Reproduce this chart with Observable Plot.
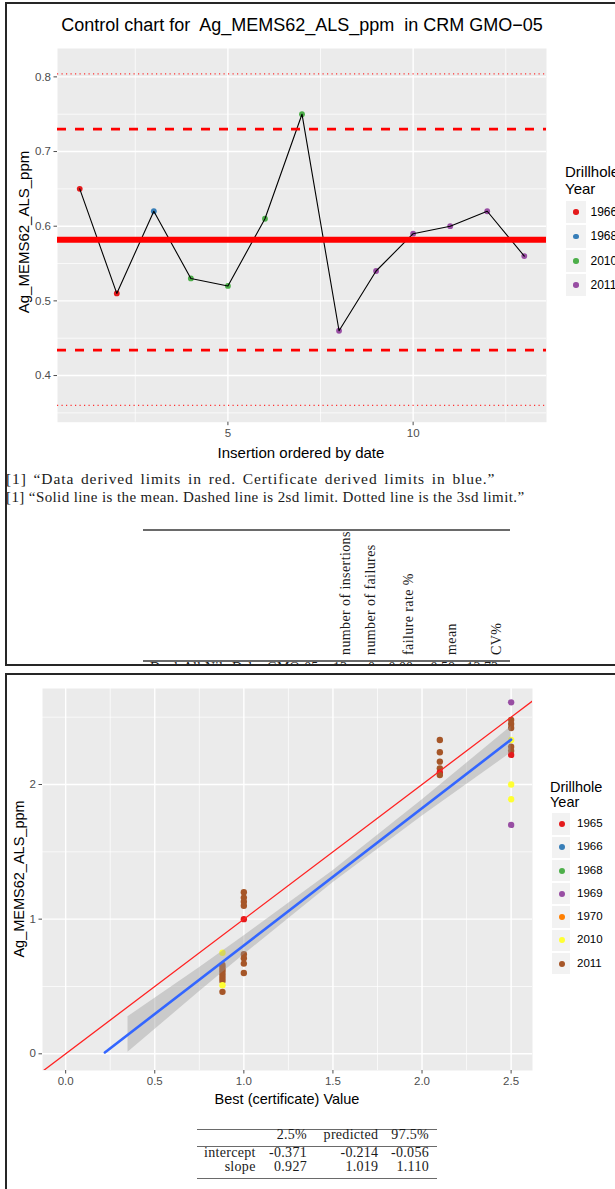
<!DOCTYPE html>
<html><head><meta charset="utf-8">
<script src="https://cdn.jsdelivr.net/npm/d3@7"></script>
<script src="https://cdn.jsdelivr.net/npm/@observablehq/plot@0.6"></script>
<style>
body{margin:0;background:#fff;}
#page{position:relative;width:615px;height:1189px;overflow:hidden;background:#fff;font-family:"Liberation Sans",Arial,sans-serif;color:#000;}
svg{position:absolute;}
</style></head><body><div id="page"></div>
<script>
// ---------- Control chart data ----------
const insertion = [1,2,3,4,5,6,7,8,9,10,11,12,13];
const agValue = [0.65,0.51,0.62,0.53,0.52,0.61,0.75,0.46,0.54,0.59,0.60,0.62,0.56];
const insertionYear = ["1966","1966","1968","2010","2010","2010","2010","2011","2011","2011","2011","2011","2011"];
const topYears = ["1966","1968","2010","2011"];
const topColors = ["#E41A1C","#377EB8","#4DAF4A","#984EA3"];
const meanValue = [0.582];
const limit2sd = [0.434, 0.730];
const limit3sd = [0.360, 0.804];
const topXTicks = [5, 10];
const topXMinor = [2.5, 7.5, 12.5];
const topYTicks = [0.4, 0.5, 0.6, 0.7, 0.8];
const topYMinor = [0.35, 0.45, 0.55, 0.65, 0.75];
const tableHeaders = ["number of insertions","number of failures","failure rate %","mean","CV%"];
const tableRowLabels = ["Dupl","All","Nil","Dal","GMO-05"];
const tableRowValues = ["13","0","0.00","0.58","12.73"];

// ---------- Regression chart data ----------
const certValue = [0.88,0.88,0.88,0.88,0.88,0.88,0.88,0.88,0.88,0.88,
  1.0,1.0,1.0,1.0,1.0,1.0,1.0,1.0,1.0,
  2.1,2.1,2.1,2.1,2.1,2.1,
  2.5,2.5,2.5,2.5,2.5,2.5,2.5,2.5,2.5,2.5,2.5];
const measured = [0.75,0.66,0.64,0.62,0.60,0.58,0.56,0.54,0.51,0.46,
  1.20,1.16,1.13,1.10,1.00,0.74,0.71,0.67,0.60,
  2.33,2.24,2.17,2.12,2.09,2.07,
  2.61,2.48,2.45,2.42,2.33,2.28,2.25,2.22,2.00,1.89,1.70];
const drillYear = ["2010","2011","2011","2011","2011","2011","2011","2011","2010","2011",
  "2011","2011","2011","2011","1965","2011","2011","2011","2011",
  "2011","2011","2011","2011","1965","2011",
  "1969","2011","2011","2011","2010","2011","2011","1965","2010","2010","1969"];
const allYears = ["1965","1966","1968","1969","1970","2010","2011"];
const allColors = ["#E41A1C","#377EB8","#4DAF4A","#984EA3","#FF7F00","#FFFF33","#A65628"];
const fitRange = [0.22, 2.5];
const bandX  = [0.35, 0.75, 1.0, 1.5, 2.0, 2.5];
const bandLo = [0.012, 0.46, 0.735, 1.27, 1.765, 2.235];
const bandHi = [0.275, 0.64, 0.875, 1.36, 1.885, 2.43];
const identityRange = [-0.3, 2.9];
const botXTicks = [0, 0.5, 1, 1.5, 2, 2.5];
const botXMinor = [0.25, 0.75, 1.25, 1.75, 2.25];
const botYTicks = [0, 1, 2];
const botYMinor = [0.5, 1.5, 2.5];
const coefHeaders = ["", "2.5%", "predicted", "97.5%"];
const coefRows = [["intercept","-0.371","-0.214","-0.056"],["slope","0.927","1.019","1.110"]];

const page = document.getElementById("page");
function el(tag, css, html){ const e=document.createElement(tag); e.style.cssText=css; if(html!==undefined) e.innerHTML=html; page.appendChild(e); return e; }
function txtC(t,x,y,css){ return el("div",`position:absolute;white-space:nowrap;left:${x}px;top:${y}px;line-height:1;transform:translate(-50%,-50%);${css}`,t); }
function txtL(t,x,y,css){ return el("div",`position:absolute;white-space:nowrap;left:${x}px;top:${y}px;line-height:1;transform:translate(0,-50%);${css}`,t); }
function serifAt(t,x,base,fs,align,css=""){
  const top = base - 0.8375*fs;
  const tr = align==="right" ? "translateX(-100%)" : "none";
  return el("div",`position:absolute;white-space:nowrap;left:${x}px;top:${top}px;font-size:${fs}px;line-height:${fs}px;transform:${tr};font-family:'Liberation Serif','Times New Roman',serif;color:#1a1a1a;${css}`,t);
}
const gridMajor = {stroke:"#fff", strokeOpacity:1, strokeWidth:1.4};
const gridMinor = {stroke:"#fff", strokeOpacity:1, strokeWidth:0.7};
const axisStyle = {fontSize:11.5, color:"#4D4D4D", label:null, tickSize:3.5, tickPadding:3};

// ---------- Chart 1 ----------
const pts = insertion.map((d,i)=>({insertion:d, value:agValue[i], year:insertionYear[i]}));
const chart1 = Plot.plot({
  width:615, height:470, marginLeft:57, marginRight:69, marginTop:48, marginBottom:48.3,
  x:{domain:[0.4,13.6]}, y:{domain:[0.3375,0.838]},
  color:{domain:topYears, range:topColors},
  style:{background:"transparent", fontFamily:"Liberation Sans, Arial, sans-serif", overflow:"visible"},
  marks:[
    Plot.frame({fill:"#EBEBEB", stroke:"none"}),
    Plot.gridX(topXMinor, gridMinor),
    Plot.gridY(topYMinor, gridMinor),
    Plot.gridX(topXTicks, gridMajor),
    Plot.gridY(topYTicks, gridMajor),
    Plot.dot(pts, {x:"insertion", y:"value", fill:"year", r:2.9, stroke:"none"}),
    Plot.line(pts, {x:"insertion", y:"value", stroke:"#000", strokeWidth:1.1}),
    Plot.ruleY(meanValue, {stroke:"#FF0000", strokeWidth:6}),
    Plot.ruleY(limit2sd, {stroke:"#FF0000", strokeWidth:2.6, strokeDasharray:"9,9"}),
    Plot.ruleY(limit3sd, {stroke:"#FF3333", strokeWidth:1.2, strokeDasharray:"1.2,3.3"}),
    Plot.axisX(topXTicks, {...axisStyle, tickFormat:d=>String(d)}),
    Plot.axisY(topYTicks, {...axisStyle, tickFormat:d=>d.toFixed(1)})
  ]
});
chart1.style.left="0px"; chart1.style.top="0px";
page.appendChild(chart1);

txtC("Control chart for&nbsp; Ag_MEMS62_ALS_ppm &nbsp;in CRM GMO\u221205", 302, 25, "font-size:18px;color:#000;");
txtC("Insertion ordered by date", 301, 452, "font-size:15px;color:#000;");
txtC("Ag_MEMS62_ALS_ppm", 23, 232, "font-size:15px;color:#000;transform:translate(-50%,-50%) rotate(-90deg);");
// legend 1 (cut by the right edge, as in the reference)
txtL("Drillhole", 565, 171, "font-size:15px;");
txtL("Year", 565, 187.5, "font-size:15px;");
topYears.forEach((yr,i)=>{
  const cy = 212 + i*24.4;
  el("div",`position:absolute;left:565px;top:${cy-12.2}px;width:22px;height:24.4px;background:#F2F2F2;box-sizing:border-box;border:1px solid #fff;`);
  el("div",`position:absolute;left:${576-2.8}px;top:${cy-2.8}px;width:5.6px;height:5.6px;border-radius:50%;background:${topColors[i]};`);
  txtL(yr, 590.5, cy, "font-size:12px;color:#000;");
});

// text lines
serifAt("[1] \u201CData derived limits in red. Certificate derived limits in blue.\u201D", 6, 484, 15.5, "left", "letter-spacing:0.9px;word-spacing:2px;");
serifAt("[1] \u201CSolid line is the mean. Dashed line is 2sd limit. Dotted line is the 3sd limit.\u201D", 6, 503, 15, "left", "letter-spacing:0.4px;");

// table 1
el("div","position:absolute;left:143px;top:528.5px;width:367px;height:0;border-top:2px solid #6a6a6a;");
el("div","position:absolute;left:143px;top:659.5px;width:367px;height:0;border-top:2px solid #6a6a6a;");
const hdrX = [345, 370, 408, 451.7, 496.7];
tableHeaders.forEach((h,i)=>{
  el("div",`position:absolute;white-space:nowrap;left:${hdrX[i]-7.5}px;top:655px;font-size:14px;line-height:15px;letter-spacing:0.4px;transform-origin:0 0;transform:rotate(-90deg);font-family:'Liberation Serif','Times New Roman',serif;color:#1a1a1a;`, h);
});
const clip = el("div","position:absolute;left:0;top:0;width:615px;height:664px;overflow:hidden;");
const rowLabelX = [150,183,205,232,267];
const rowValX = [347,375,413,455,498];
function clipSerif(t,x,base,align){
  const d=document.createElement("div");
  const fs=14;
  d.style.cssText=`position:absolute;white-space:nowrap;left:${x}px;top:${base-0.8375*fs}px;font-size:${fs}px;line-height:${fs}px;transform:${align==="right"?"translateX(-100%)":"none"};font-family:'Liberation Serif',serif;color:#1a1a1a;`;
  d.textContent=t; clip.appendChild(d);
}
tableRowLabels.forEach((t,i)=>clipSerif(t,rowLabelX[i],673,"left"));
tableRowValues.forEach((t,i)=>clipSerif(t,rowValX[i],673,"right"));

// panel borders
el("div","position:absolute;left:5px;top:2px;width:640px;height:664px;box-sizing:border-box;border:2px solid #262626;");
el("div","position:absolute;left:5px;top:673px;width:640px;height:540px;box-sizing:border-box;border:2px solid #262626;");

// ---------- Chart 2 ----------
const bpts = certValue.map((d,i)=>({cert:d, meas:measured[i], year:drillYear[i]}));
const band = bandX.map((d,i)=>({x:d, lo:bandLo[i], hi:bandHi[i]}));
const b0 = +coefRows[0][2], b1 = +coefRows[1][2];
const fit = fitRange.map(x=>({x, y:b0 + b1*x}));
const ident = identityRange.map(v=>({x:v, y:v}));
const chart2 = Plot.plot({
  width:615, height:440, marginLeft:42, marginRight:83, marginTop:15, marginBottom:43,
  x:{domain:[-0.13,2.62]}, y:{domain:[-0.124,2.713]},
  color:{domain:allYears, range:allColors},
  style:{background:"transparent", fontFamily:"Liberation Sans, Arial, sans-serif", overflow:"visible"},
  marks:[
    Plot.frame({fill:"#EBEBEB", stroke:"none"}),
    Plot.gridX(botXMinor, gridMinor),
    Plot.gridY(botYMinor, gridMinor),
    Plot.gridX(botXTicks, gridMajor),
    Plot.gridY(botYTicks, gridMajor),
    Plot.dot(bpts, {x:"cert", y:"meas", fill:"year", r:3.2, stroke:"none"}),
    Plot.areaY(band, {x:"x", y1:"lo", y2:"hi", fill:"#999999", fillOpacity:0.4}),
    Plot.line(fit, {x:"x", y:"y", stroke:"#3366FF", strokeWidth:2.6}),
    Plot.line(ident, {x:"x", y:"y", stroke:"#F22", strokeWidth:1.3, clip:true}),
    Plot.axisX(botXTicks, {...axisStyle, tickFormat:d=>d.toFixed(1)}),
    Plot.axisY(botYTicks, {...axisStyle, tickFormat:d=>String(d)})
  ]
});
chart2.style.left="0px"; chart2.style.top="673px";
page.appendChild(chart2);

txtC("Best (certificate) Value", 287, 1099, "font-size:14.5px;color:#000;");
txtC("Ag_MEMS62_ALS_ppm", 19, 879, "font-size:14.5px;color:#000;transform:translate(-50%,-50%) rotate(-90deg);");
txtL("Drillhole", 550, 786.5, "font-size:14.5px;");
txtL("Year", 550, 801.5, "font-size:14.5px;");
allYears.forEach((yr,i)=>{
  const cy = 824 + i*23.25;
  el("div",`position:absolute;left:551px;top:${cy-11.6}px;width:20px;height:23.25px;background:#F2F2F2;box-sizing:border-box;border:1px solid #fff;`);
  el("div",`position:absolute;left:${561.5-3}px;top:${cy-3}px;width:6px;height:6px;border-radius:50%;background:${allColors[i]};`);
  txtL(yr, 577, cy, "font-size:11.5px;color:#000;");
});

// table 2
el("div","position:absolute;left:197px;top:1128.5px;width:240px;height:0;border-top:1.5px solid #6a6a6a;");
el("div","position:absolute;left:197px;top:1145.5px;width:240px;height:0;border-top:1px solid #6a6a6a;");
el("div","position:absolute;left:197px;top:1177.5px;width:240px;height:0;border-top:1.5px solid #6a6a6a;");
const colRight = [255.7, 307, 378.4, 429];
coefHeaders.forEach((h,i)=>{ if(h) serifAt(h, colRight[i], 1140, 14, "right", "letter-spacing:0.3px;"); });
coefRows.forEach((r,j)=>r.forEach((c,i)=>serifAt(c, colRight[i], 1158 + j*14, 14, "right", "letter-spacing:0.3px;")));
</script></body></html>
